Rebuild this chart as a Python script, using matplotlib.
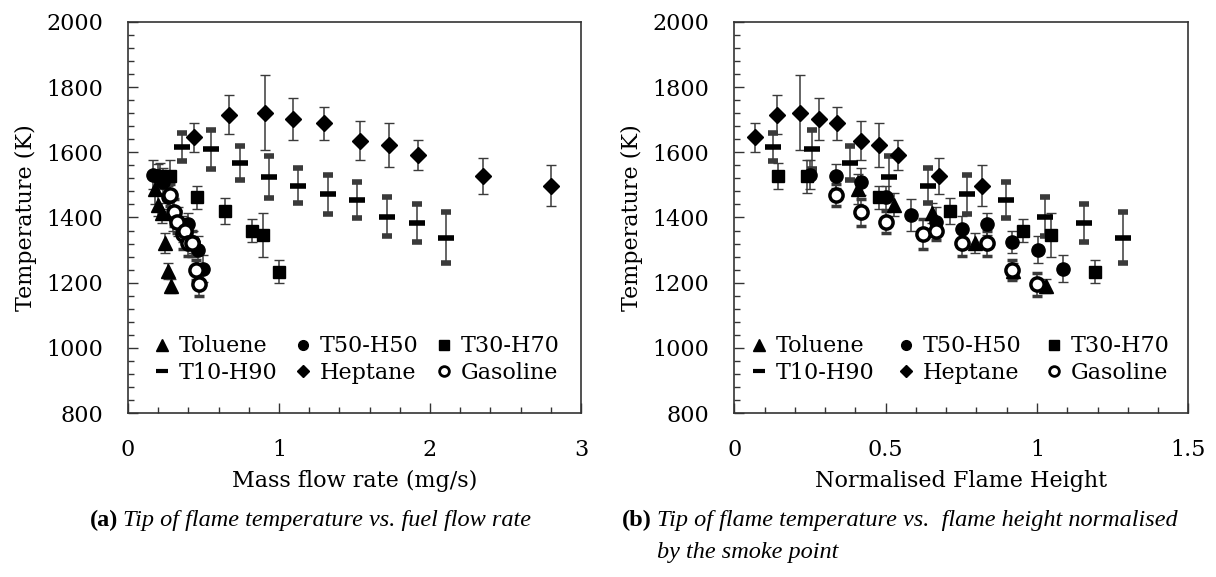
import matplotlib
matplotlib.use("Agg")
import matplotlib.pyplot as plt
from matplotlib.lines import Line2D
from matplotlib.ticker import MultipleLocator, FuncFormatter

# ---------------- data ----------------
fuels = ["Toluene", "T50-H50", "T30-H70", "T10-H90", "Heptane", "Gasoline"]

tol_mass = [0.179, 0.201, 0.223, 0.245, 0.267, 0.283]
tol_norm = [0.409, 0.527, 0.654, 0.794, 0.922, 1.029]
tol_T = [1487, 1439, 1413, 1321, 1236, 1190]
tol_err = [45, 35, 30, 30, 25, 22]

t50_mass = [0.166, 0.200, 0.233, 0.266, 0.300, 0.333, 0.366, 0.399, 0.432, 0.466, 0.499]
t50_norm = [0.251, 0.335, 0.419, 0.500, 0.585, 0.668, 0.751, 0.836, 0.917, 1.002, 1.085]
t50_T = [1531, 1528, 1510, 1462, 1408, 1387, 1364, 1380, 1324, 1301, 1243]
t50_err = [45, 37, 42, 35, 48, 45, 40, 34, 34, 42, 41]

t30_mass = [0.212, 0.278, 0.459, 0.642, 0.819, 0.892, 1.002]
t30_norm = [0.144, 0.240, 0.477, 0.714, 0.954, 1.046, 1.192]
t30_T = [1526, 1526, 1462, 1421, 1359, 1346, 1234]
t30_err = [40, 50, 36, 40, 35, 67, 36]

t10_mass = [0.355, 0.549, 0.742, 0.936, 1.128, 1.322, 1.519, 1.713, 1.912, 2.106]
t10_norm = [0.129, 0.256, 0.383, 0.512, 0.640, 0.770, 0.899, 1.027, 1.156, 1.285]
t10_T = [1617, 1610, 1567, 1525, 1497, 1471, 1454, 1402, 1383, 1338]
t10_err = [43, 60, 53, 64, 54, 60, 55, 60, 58, 78]

hep_mass = [0.440, 0.670, 0.907, 1.095, 1.298, 1.536, 1.730, 1.923, 2.353, 2.799]
hep_norm = [0.0685, 0.140, 0.218, 0.279, 0.340, 0.419, 0.479, 0.541, 0.676, 0.819]
hep_T = [1646, 1715, 1722, 1703, 1689, 1636, 1622, 1592, 1527, 1498]
hep_err = [45, 60, 115, 65, 50, 61, 67, 47, 55, 62]

gas_mass = [0.278, 0.303, 0.326, 0.362, 0.375, 0.400, 0.425, 0.448, 0.473]
gas_norm = [0.335, 0.419, 0.500, 0.624, 0.668, 0.751, 0.836, 0.916, 1.001]
gas_T = [1469, 1416, 1386, 1349, 1360, 1321, 1321, 1239, 1195]
gas_err = [35, 42, 35, 47, 30, 39, 39, 30, 36]

series = [
    (tol_mass, tol_norm, tol_T, tol_err),
    (t50_mass, t50_norm, t50_T, t50_err),
    (t30_mass, t30_norm, t30_T, t30_err),
    (t10_mass, t10_norm, t10_T, t10_err),
    (hep_mass, hep_norm, hep_T, hep_err),
    (gas_mass, gas_norm, gas_T, gas_err),
]

styles = [
    dict(marker="^", ms=10.5, mfc="black", mew=1),
    dict(marker="o", ms=9.5, mfc="black", mew=1),
    dict(marker="s", ms=9, mfc="black", mew=1),
    dict(marker="_", ms=11, mfc="black", mew=4),
    dict(marker="D", ms=8, mfc="black", mew=1),
    dict(marker="o", ms=9.5, mfc="white", mew=2.5),
]
leg_styles = [
    dict(marker="^", ms=8, mfc="black", mew=1),
    dict(marker="o", ms=7, mfc="black", mew=1),
    dict(marker="s", ms=7, mfc="black", mew=1),
    dict(marker="_", ms=9, mfc="black", mew=3),
    dict(marker="D", ms=6, mfc="black", mew=1),
    dict(marker="o", ms=7, mfc="white", mew=2),
]
# legend reads row-wise: matplotlib fills columns first -> reorder
leg_order = [0, 3, 1, 4, 2, 5]

plt.rcParams["font.family"] = ["DejaVu Serif"]
plt.rcParams["font.size"] = 16

fig = plt.figure(figsize=(12.16, 5.77), dpi=100)
W, H = 1216, 577
ax1 = fig.add_axes([128 / W, 1 - 413 / H, 453 / W, 391 / H])
ax2 = fig.add_axes([734.3 / W, 1 - 413 / H, 454 / W, 391 / H])


def draw(ax, idx, xmax, xmajor, xminor, xlabel, leg_x, colsp):
    for (m, n, T, e), st in zip(series, styles):
        xs = m if idx == 0 else n
        ax.errorbar(xs, T, yerr=e, linestyle="none", ecolor="#3a3a3a",
                    elinewidth=1.1, capsize=3.5, capthick=1.1, color="black",
                    marker=st["marker"], markersize=st["ms"], markerfacecolor=st["mfc"],
                    markeredgecolor="black", markeredgewidth=st["mew"], zorder=3)
    ax.set_xlim(0, xmax)
    ax.set_ylim(800, 2000)
    ax.xaxis.set_major_locator(MultipleLocator(xmajor))
    ax.xaxis.set_minor_locator(MultipleLocator(xminor))
    ax.xaxis.set_major_formatter(FuncFormatter(lambda v, p: f"{v:g}"))
    ax.yaxis.set_major_locator(MultipleLocator(200))
    ax.yaxis.set_minor_locator(MultipleLocator(40))
    ax.tick_params(which="both", direction="in", top=False, right=False, colors="#333333",
                   labelcolor="black")
    ax.tick_params(which="major", length=7, width=1, labelsize=16)
    ax.tick_params(which="minor", length=4.5, width=1)
    ax.tick_params(axis="y", which="major", pad=18)
    ax.tick_params(axis="x", which="major", pad=19)
    for sp in ax.spines.values():
        sp.set_color("#333333")
        sp.set_linewidth(1.2)
    ax.set_xlabel(xlabel, fontsize=16)
    ax.set_ylabel("Temperature (K)", fontsize=16)
    ax.xaxis.set_label_coords(0.5, -0.145)
    ax.yaxis.set_label_coords(-0.2, 0.5)
    handles = []
    labels = []
    for i in leg_order:
        ls = leg_styles[i]
        handles.append(Line2D([], [], linestyle="none", color="black",
                              markerfacecolor=ls["mfc"], markeredgecolor="black",
                              marker=ls["marker"], markersize=ls["ms"],
                              markeredgewidth=ls["mew"]))
        labels.append(fuels[i])
    ax.legend(handles, labels, ncol=3, loc="lower left", bbox_to_anchor=(leg_x, 0.035),
              frameon=False, fontsize=16, handlelength=0.8, handletextpad=0.35,
              columnspacing=colsp, labelspacing=0.2, borderpad=0.2)


draw(ax1, 0, 3, 1, 0.2, "Mass flow rate (mg/s)", 0.022, 0.75)
draw(ax2, 1, 1.5, 0.5, 0.1, "Normalised Flame Height", 0.0, 1.05)

cap_font = ["Liberation Serif", "DejaVu Serif"]
fig.canvas.draw()
r = fig.canvas.get_renderer()


def caption(xpx, ypx, tag, lines):
    t = fig.text(xpx / W, 1 - ypx / H, tag, fontsize=17.5, fontweight="bold",
                 family=cap_font, va="baseline", ha="left")
    bb = t.get_window_extent(r)
    x2 = bb.x1 + 5
    for i, ln in enumerate(lines):
        fig.text(x2 / W, 1 - (ypx + 32 * i) / H, ln, fontsize=17.5, style="italic",
                 family=cap_font, va="baseline", ha="left")


caption(90, 526, "(a)", ["Tip of flame temperature vs. fuel flow rate"])
caption(622, 526, "(b)", ["Tip of flame temperature vs.  flame height normalised",
                          "by the smoke point"])

fig.savefig("out.png", dpi=100, facecolor="white")
